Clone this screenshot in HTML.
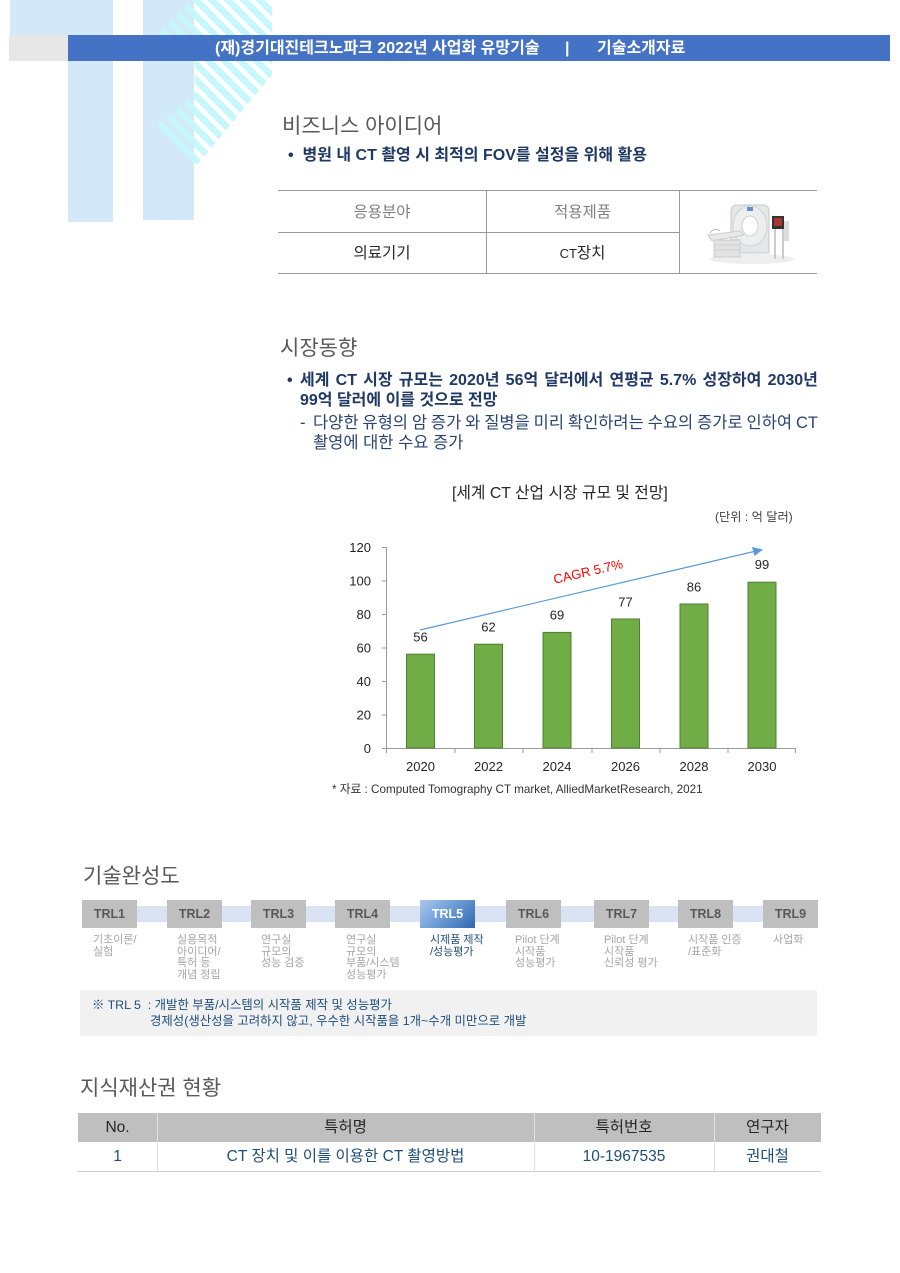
<!DOCTYPE html>
<html><head><meta charset="utf-8">
<style>
*{margin:0;padding:0;box-sizing:border-box}
html,body{width:900px;height:1273px;background:#fff;overflow:hidden}
body{position:relative;font-family:"Liberation Sans","Noto Sans CJK KR",sans-serif;color:#262626}
.a{position:absolute;white-space:nowrap;line-height:1}
.h{font-size:21px;color:#595959}
.trl{position:absolute;top:900px;width:55px;height:28px;background:#bfbfbf;color:#595959;font-weight:bold;font-size:12.5px;text-align:center;line-height:28px}
.d{position:absolute;top:935px;font-size:11px;line-height:11.7px;color:#a6a6a6;white-space:nowrap}
.j{position:absolute;display:flex;justify-content:space-between;white-space:nowrap;line-height:1}
</style></head><body>

<!-- background decoration -->
<svg class="a" style="left:0;top:0" width="300" height="240">
<defs><clipPath id="cp"><polygon points="190,0 272,0 272,75 197,165 155,127 195,93 195,62 160,33"/></clipPath></defs>
<rect x="10" y="0" width="103" height="35" fill="#d3e8f8"/>
<rect x="68" y="0" width="45" height="222" fill="#d3e8f8"/>
<rect x="143" y="0" width="51" height="220" fill="#d3e8f8"/>
<g clip-path="url(#cp)" stroke="#c6f7fb" stroke-width="6.5">
<line x1="-40" y1="-60" x2="200" y2="180"/><line x1="-24" y1="-60" x2="216" y2="180"/>
<line x1="-8" y1="-60" x2="232" y2="180"/><line x1="8" y1="-60" x2="248" y2="180"/>
<line x1="24" y1="-60" x2="264" y2="180"/><line x1="40" y1="-60" x2="280" y2="180"/>
<line x1="56" y1="-60" x2="296" y2="180"/><line x1="72" y1="-60" x2="312" y2="180"/>
<line x1="88" y1="-60" x2="328" y2="180"/><line x1="104" y1="-60" x2="344" y2="180"/>
<line x1="120" y1="-60" x2="360" y2="180"/><line x1="136" y1="-60" x2="376" y2="180"/>
<line x1="152" y1="-60" x2="392" y2="180"/><line x1="168" y1="-60" x2="408" y2="180"/>
<line x1="184" y1="-60" x2="424" y2="180"/><line x1="200" y1="-60" x2="440" y2="180"/>
</g>
</svg>

<!-- header bar -->
<div class="a" style="left:9px;top:35px;width:59px;height:26px;background:#e7e7e7"></div>
<div class="a" style="left:68px;top:35px;width:822px;height:26px;background:#4472c4"></div>
<div class="a" style="left:215px;top:41px;font-size:16px;font-weight:bold;color:#fff">(재)경기대진테크노파크 2022년 사업화 유망기술</div>
<div class="a" style="left:565px;top:41px;font-size:16px;font-weight:bold;color:#fff">|</div>
<div class="a" style="left:597px;top:41px;font-size:16px;font-weight:bold;color:#fff">기술소개자료</div>

<!-- business idea -->
<div class="a h" style="left:282px;top:116px">비즈니스 아이디어</div>
<div class="a" style="left:288px;top:148px;font-size:16px;font-weight:bold;color:#1f3864">•&nbsp; 병원 내 CT 촬영 시 최적의 FOV를 설정을 위해 활용</div>

<div class="a" style="left:278px;top:190px;width:539px;height:1px;background:#9a9a9a"></div>
<div class="a" style="left:278px;top:232px;width:401px;height:1px;background:#9a9a9a"></div>
<div class="a" style="left:278px;top:273px;width:539px;height:1px;background:#9a9a9a"></div>
<div class="a" style="left:486px;top:190px;width:1px;height:84px;background:#9a9a9a"></div>
<div class="a" style="left:679px;top:190px;width:1px;height:84px;background:#9a9a9a"></div>
<div class="a" style="left:278px;top:205px;width:208px;text-align:center;font-size:15.5px;color:#7f7f7f">응용분야</div>
<div class="a" style="left:486px;top:205px;width:193px;text-align:center;font-size:15.5px;color:#7f7f7f">적용제품</div>
<div class="a" style="left:278px;top:246px;width:208px;text-align:center;font-size:15.5px;color:#262626">의료기기</div>
<div class="a" style="left:486px;top:246px;width:193px;text-align:center;font-size:15.5px;color:#262626"><span style="font-size:13px">CT</span>장치</div>

<!-- CT machine -->
<svg class="a" style="left:700px;top:195px" width="105" height="75">
<ellipse cx="52" cy="64" rx="42" ry="5" fill="#eeeeee"/>
<rect x="72" y="21" width="12" height="13" fill="#333"/>
<rect x="74" y="23" width="8" height="8" fill="#a33"/>
<line x1="75" y1="34" x2="75" y2="64" stroke="#bbb" stroke-width="1.5"/>
<line x1="83" y1="34" x2="83" y2="64" stroke="#bbb" stroke-width="1.5"/>
<rect x="84" y="26" width="5" height="20" fill="#ddd"/>
<path d="M31 58 L31 16 Q31 10 38 10 L62 10 Q69 10 69 16 L69 58 Z" fill="#e4e6e8" stroke="#c8cacc"/>
<ellipse cx="50" cy="31" rx="17" ry="20" fill="#eceef0" stroke="#cfd1d3"/>
<ellipse cx="50" cy="31" rx="8" ry="10" fill="#fff" stroke="#d0d0d0"/>
<rect x="47" y="12" width="6" height="4" fill="#6a8fc8"/>
<path d="M8 40 L40 36 L44 40 L12 46 Z" fill="#e9e9e9" stroke="#ccc"/>
<rect x="14" y="45" width="26" height="17" fill="#e2e2e2" stroke="#ccc"/>
<line x1="14" y1="50" x2="40" y2="50" stroke="#cfcfcf"/><line x1="14" y1="55" x2="40" y2="55" stroke="#cfcfcf"/>
<path d="M10 38 Q14 32 20 36" fill="none" stroke="#bbb"/>
</svg>

<!-- market trends -->
<div class="a h" style="left:280px;top:338px">시장동향</div>
<div class="a" style="left:287px;top:373px;font-size:16px;font-weight:bold;color:#1f3864">•</div>
<div class="j" style="left:300px;top:373px;width:518px;font-size:16px;font-weight:bold;color:#1f3864"><span>세계</span><span>CT</span><span>시장</span><span>규모는</span><span>2020년</span><span>56억</span><span>달러에서</span><span>연평균</span><span>5.7%</span><span>성장하여</span><span>2030년</span></div>
<div class="a" style="left:300px;top:393px;font-size:16px;font-weight:bold;color:#1f3864">99억 달러에 이를 것으로 전망</div>
<div class="a" style="left:300px;top:415px;font-size:16.5px;color:#2a4470">-</div>
<div class="j" style="left:313px;top:415px;width:505px;font-size:16.5px;color:#2a4470"><span>다양한</span><span>유형의</span><span>암</span><span>증가</span><span>와</span><span>질병을</span><span>미리</span><span>확인하려는</span><span>수요의</span><span>증가로</span><span>인하여</span><span>CT</span></div>
<div class="a" style="left:313px;top:435px;font-size:16.5px;color:#2a4470">촬영에 대한 수요 증가</div>

<div class="a" style="left:452px;top:486px;font-size:15.8px;color:#262626">[세계 CT 산업 시장 규모 및 전망]</div>
<div class="a" style="left:715px;top:511px;font-size:12.2px;color:#404040">(단위 : 억 달러)</div>

<!-- chart -->
<svg class="a" style="left:0;top:0" width="900" height="810" font-family="Liberation Sans, Noto Sans CJK KR, sans-serif">
<g stroke="#9a9a9a" stroke-width="1">
<line x1="386.5" y1="547" x2="386.5" y2="748"/>
<line x1="382" y1="547.5" x2="386" y2="547.5"/>
<line x1="382" y1="581" x2="386" y2="581"/>
<line x1="382" y1="614.5" x2="386" y2="614.5"/>
<line x1="382" y1="648" x2="386" y2="648"/>
<line x1="382" y1="681.5" x2="386" y2="681.5"/>
<line x1="382" y1="715" x2="386" y2="715"/>
<line x1="382" y1="748.5" x2="796" y2="748.5"/>
<line x1="386.5" y1="748" x2="386.5" y2="753"/>
<line x1="455" y1="748" x2="455" y2="753"/>
<line x1="523" y1="748" x2="523" y2="753"/>
<line x1="592" y1="748" x2="592" y2="753"/>
<line x1="660" y1="748" x2="660" y2="753"/>
<line x1="728" y1="748" x2="728" y2="753"/>
<line x1="795.5" y1="748" x2="795.5" y2="753"/>
</g>
<g font-size="13" fill="#262626" text-anchor="end">
<text x="371" y="552">120</text>
<text x="371" y="585.5">100</text>
<text x="371" y="619">80</text>
<text x="371" y="652.5">60</text>
<text x="371" y="686">40</text>
<text x="371" y="719.5">20</text>
<text x="371" y="753">0</text>
</g>
<g fill="#70ad47" stroke="#507e32" stroke-width="1">
<rect x="406.5" y="654.2" width="28" height="93.8"/>
<rect x="474.5" y="644.2" width="28" height="103.8"/>
<rect x="543" y="632.4" width="28" height="115.6"/>
<rect x="611.5" y="619" width="28" height="129"/>
<rect x="680" y="604" width="28" height="144"/>
<rect x="748" y="582.2" width="28" height="165.8"/>
</g>
<g font-size="13" fill="#262626" text-anchor="middle">
<text x="420.5" y="641.5">56</text>
<text x="488.5" y="631.5">62</text>
<text x="557" y="619.5">69</text>
<text x="625.5" y="606.5">77</text>
<text x="694" y="591.5">86</text>
<text x="762" y="569">99</text>
<text x="420.5" y="771">2020</text>
<text x="488.5" y="771">2022</text>
<text x="557" y="771">2024</text>
<text x="625.5" y="771">2026</text>
<text x="694" y="771">2028</text>
<text x="762" y="771">2030</text>
</g>
<line x1="420" y1="630" x2="754" y2="551.5" stroke="#5b9bd5" stroke-width="1.2"/>
<polygon points="763,549.5 752,547 754.5,556" fill="#5b9bd5"/>
<text x="588" y="576" font-size="13" fill="#ff0000" text-anchor="middle" transform="rotate(-13 588 571)">CAGR 5.7%</text>
<text x="332" y="793" font-size="11.7" fill="#333">* 자료 : Computed Tomography CT market, AlliedMarketResearch, 2021</text>
</svg>

<!-- TRL -->
<div class="a h" style="left:83px;top:866px">기술완성도</div>
<div class="a" style="left:82px;top:906px;width:736px;height:16px;background:#dae3f3"></div>
<div class="trl" style="left:82px">TRL1</div>
<div class="trl" style="left:167px">TRL2</div>
<div class="trl" style="left:251px">TRL3</div>
<div class="trl" style="left:335px">TRL4</div>
<div class="trl" style="left:420px;background:linear-gradient(135deg,#a9c8ec 0%,#6f9fd8 45%,#2f67ae 100%);color:#fff">TRL5</div>
<div class="trl" style="left:506px">TRL6</div>
<div class="trl" style="left:594px">TRL7</div>
<div class="trl" style="left:678px">TRL8</div>
<div class="trl" style="left:763px">TRL9</div>

<div class="d" style="left:93px">기초이론/<br>실험</div>
<div class="d" style="left:177px">실용목적<br>아이디어/<br>특허 등<br>개념 정립</div>
<div class="d" style="left:261px">연구실<br>규모의<br>성능 검증</div>
<div class="d" style="left:346px">연구실<br>규모의<br>부품/시스템<br>성능평가</div>
<div class="d" style="left:430px;color:#1f4e79">시제품 제작<br>/성능평가</div>
<div class="d" style="left:515px">Pilot 단계<br>시작품<br>성능평가</div>
<div class="d" style="left:604px">Pilot 단계<br>시작품<br>신뢰성 평가</div>
<div class="d" style="left:688px">시작품 인증<br>/표준화</div>
<div class="d" style="left:773px">사업화</div>

<div class="a" style="left:80px;top:990px;width:737px;height:46px;background:#f1f1f1"></div>
<div class="a" style="left:92px;top:999px;font-size:12.4px;color:#1f4e79">※ TRL 5&nbsp; : 개발한 부품/시스템의 시작품 제작 및 성능평가</div>
<div class="a" style="left:150px;top:1015px;font-size:12.4px;color:#1f4e79">경제성(생산성을 고려하지 않고, 우수한 시작품을 1개~수개 미만으로 개발</div>

<!-- IP -->
<div class="a h" style="left:80px;top:1078px">지식재산권 현황</div>
<div class="a" style="left:78px;top:1113px;width:743px;height:29px;background:#bfbfbf"></div>
<div class="a" style="left:157px;top:1113px;width:1px;height:58px;background:#e0e0e0"></div>
<div class="a" style="left:534px;top:1113px;width:1px;height:58px;background:#e0e0e0"></div>
<div class="a" style="left:714px;top:1113px;width:1px;height:58px;background:#e0e0e0"></div>
<div class="a" style="left:78px;top:1171px;width:743px;height:1px;background:#d0d0d0"></div>
<div class="a" style="left:78px;top:1120px;width:79px;text-align:center;font-size:15.5px;color:#262626">No.</div>
<div class="a" style="left:157px;top:1120px;width:377px;text-align:center;font-size:15.5px;color:#262626">특허명</div>
<div class="a" style="left:534px;top:1120px;width:180px;text-align:center;font-size:15.5px;color:#262626">특허번호</div>
<div class="a" style="left:714px;top:1120px;width:107px;text-align:center;font-size:15.5px;color:#262626">연구자</div>
<div class="a" style="left:78px;top:1149px;width:79px;text-align:center;font-size:15.5px;color:#1f4e79">1</div>
<div class="a" style="left:157px;top:1149px;width:377px;text-align:center;font-size:15.5px;color:#1f4e79">CT 장치 및 이를 이용한 CT 촬영방법</div>
<div class="a" style="left:534px;top:1149px;width:180px;text-align:center;font-size:15.5px;color:#1f4e79">10-1967535</div>
<div class="a" style="left:714px;top:1149px;width:107px;text-align:center;font-size:15.5px;color:#1f4e79">권대철</div>

</body></html>
